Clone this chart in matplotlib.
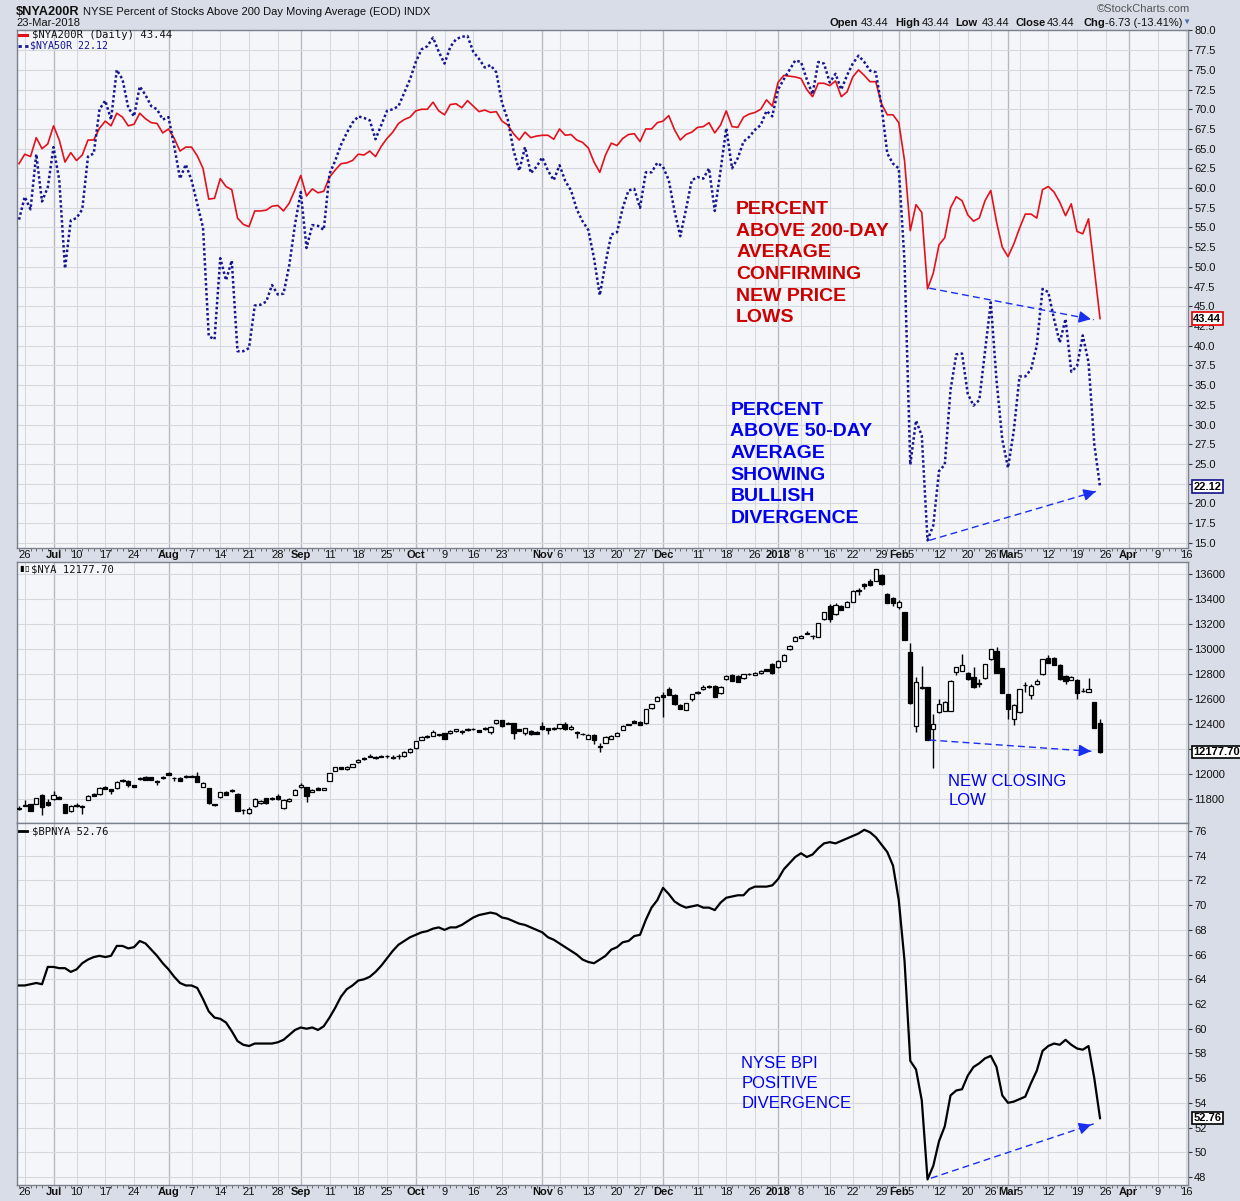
import numpy as np
import pandas as pd
import matplotlib
matplotlib.use('Agg')
import matplotlib.pyplot as plt
from matplotlib.lines import Line2D
from matplotlib.transforms import blended_transform_factory

plt.rcParams['font.family'] = ['Liberation Sans', 'DejaVu Sans']

# ---------------- data ----------------
holidays = ['2017-07-04', '2017-09-04', '2017-11-23', '2017-12-25',
            '2018-01-01', '2018-01-15', '2018-02-19', '2018-03-30']
start_date = '2017-06-23'
end_axis_date = '2018-04-20'

nya200r = [63.1,
    64.3, 64.0, 66.4, 65.0, 65.6, 67.9, 66.1, 63.3, 64.5, 63.5,
    64.2, 66.1, 66.1, 67.6, 68.5, 67.9, 69.5, 69.0, 67.9, 68.1,
    69.5, 68.8, 68.3, 68.2, 67.0, 67.5, 66.3, 64.7, 65.2, 65.2,
    64.1, 62.5, 58.6, 58.7, 61.2, 60.2, 59.8, 56.2, 55.4, 55.1,
    57.1, 57.1, 57.2, 57.7, 57.8, 57.1, 58.1, 59.8, 61.6, 59.0,
    59.9, 59.4, 59.6, 61.4, 62.3, 63.1, 63.2, 63.5, 64.3, 64.2,
    64.7, 64.0, 65.3, 66.3, 67.1, 68.2, 68.7, 69.0, 69.8, 70.0,
    70.0, 70.9, 69.8, 69.3, 70.6, 70.7, 70.2, 71.1, 70.4, 69.7,
    69.9, 69.6, 69.7, 68.5, 68.0, 66.9, 66.1, 67.1, 66.4, 66.6,
    66.7, 66.7, 66.2, 67.5, 66.7, 66.8, 66.1, 65.8, 65.1, 63.3,
    62.0, 64.2, 65.7, 65.4, 66.3, 66.8, 66.9, 65.9, 67.5, 67.5,
    68.3, 68.5, 69.2, 67.4, 66.1, 66.8, 67.1, 67.7, 67.8, 68.3,
    67.0, 68.0, 69.8, 67.8, 67.7, 69.0, 69.4, 69.6, 70.0, 71.2,
    70.4, 73.4, 74.3, 74.2, 74.1, 73.9, 72.5, 71.6, 73.3, 73.3,
    73.0, 73.6, 71.6, 72.2, 74.1, 75.0, 74.3, 73.5, 73.5, 70.7,
    69.3, 69.3, 68.3, 63.5, 54.6, 57.9, 56.9, 47.2, 49.2, 52.8,
    53.7, 57.5, 58.9, 58.4, 56.6, 55.8, 56.2, 58.4, 59.7, 55.7,
    52.5, 51.3, 52.9, 54.9, 56.7, 56.7, 56.2, 59.8, 60.2, 59.5,
    58.2, 56.5, 58.0, 54.5, 54.2, 56.1, 49.8, 43.44]

nya50r = [56.0,
    58.9, 57.3, 64.3, 58.3, 60.1, 65.2, 61.0, 49.8, 55.9, 56.2,
    57.3, 64.0, 64.4, 70.0, 71.1, 68.7, 75.0, 73.8, 70.2, 69.1,
    72.9, 71.8, 70.4, 70.0, 68.7, 69.0, 65.3, 61.2, 63.0, 61.0,
    58.0, 55.0, 41.2, 40.8, 51.1, 48.3, 50.8, 39.3, 39.3, 39.7,
    45.1, 45.2, 45.6, 47.7, 46.5, 46.6, 50.2, 55.4, 59.5, 52.4,
    55.3, 55.2, 54.7, 61.8, 63.5, 65.5, 67.0, 68.3, 69.1, 68.9,
    68.6, 66.2, 68.0, 69.8, 70.0, 70.4, 72.1, 73.8, 76.0, 77.6,
    78.0, 79.1, 77.3, 75.8, 77.9, 78.9, 79.2, 79.3, 77.3, 76.4,
    75.3, 75.6, 74.7, 70.8, 68.7, 64.8, 62.2, 65.2, 61.9, 62.7,
    63.9, 62.2, 61.0, 62.9, 60.9, 59.7, 57.3, 55.8, 54.7, 51.1,
    46.4, 50.5, 54.1, 54.4, 57.5, 59.7, 59.9, 57.5, 62.0, 62.0,
    63.2, 62.7, 61.0, 57.1, 53.9, 57.3, 61.0, 61.4, 61.2, 62.5,
    57.1, 62.2, 67.6, 62.5, 63.8, 65.9, 66.5, 67.4, 68.0, 69.8,
    69.1, 72.5, 73.8, 75.0, 76.2, 76.0, 73.8, 71.9, 76.0, 75.8,
    73.4, 74.5, 72.5, 74.3, 75.8, 76.8, 76.0, 74.9, 74.7, 70.4,
    64.4, 63.1, 62.5, 50.7, 24.9, 30.5, 28.6, 15.3, 17.2, 24.1,
    24.9, 34.4, 38.9, 39.0, 33.9, 32.4, 33.1, 39.3, 45.5, 35.6,
    28.1, 24.5, 29.2, 36.1, 36.1, 37.0, 40.0, 47.2, 46.8, 43.4,
    40.4, 43.4, 36.7, 37.4, 41.3, 37.9, 27.5, 22.12]

nya_open = [11722,
    11750, 11760, 11763, 11835, 11781, 11800, 11821, 11760, 11709, 11745,
    11741, 11795, 11840, 11840, 11896, 11880, 11888, 11944, 11947, 11912,
    11973, 11981, 11976, 11941, 11970, 12008, 11968, 11968, 11976, 11980,
    11987, 11901, 11888, 11760, 11816, 11856, 11867, 11843, 11712, 11688,
    11747, 11768, 11808, 11813, 11829, 11728, 11784, 11835, 11896, 11896,
    11859, 11893, 11875, 11949, 12027, 12056, 12040, 12061, 12096, 12131,
    12141, 12141, 12141, 12145, 12141, 12145, 12147, 12176, 12208, 12275,
    12309, 12309, 12312, 12328, 12328, 12344, 12340, 12363, 12358, 12352,
    12365, 12336, 12408, 12432, 12405, 12408, 12360, 12333, 12347, 12341,
    12387, 12368, 12365, 12368, 12400, 12360, 12330, 12320, 12283, 12315,
    12218, 12253, 12283, 12309, 12355, 12395, 12427, 12420, 12408, 12528,
    12589, 12635, 12680, 12635, 12555, 12515, 12600, 12648, 12680, 12707,
    12707, 12648, 12760, 12795, 12787, 12768, 12800, 12795, 12808, 12840,
    12883, 12856, 12909, 13000, 13067, 13093, 13125, 13105, 13101, 13240,
    13347, 13280, 13347, 13341, 13381, 13467, 13523, 13547, 13547, 13595,
    13440, 13408, 13336, 13296, 12981, 12387, 12690, 12696, 12360, 12496,
    12509, 12509, 12821, 12827, 12813, 12781, 12733, 12768, 12920, 12989,
    12848, 12640, 12443, 12496, 12712, 12635, 12720, 12800, 12928, 12933,
    12875, 12787, 12755, 12755, 12665, 12661, 12576, 12408]

nya_close = [11732,
    11757, 11709, 11808, 11736, 11755, 11835, 11805, 11693, 11749, 11752,
    11745, 11829, 11829, 11893, 11885, 11867, 11939, 11955, 11915, 11901,
    11960, 11957, 11955, 11949, 11976, 11998, 11972, 11949, 11983, 11983,
    11941, 11928, 11768, 11752, 11856, 11835, 11872, 11709, 11717, 11725,
    11803, 11789, 11768, 11800, 11800, 11795, 11803, 11875, 11915, 11827,
    11875, 11877, 11888, 12008, 12056, 12045, 12061, 12080, 12115, 12120,
    12149, 12131, 12149, 12149, 12131, 12149, 12179, 12203, 12264, 12301,
    12296, 12336, 12318, 12283, 12347, 12360, 12343, 12352, 12362, 12341,
    12369, 12381, 12432, 12384, 12410, 12333, 12349, 12368, 12320, 12323,
    12360, 12357, 12369, 12400, 12363, 12381, 12335, 12325, 12315, 12275,
    12223, 12301, 12309, 12328, 12387, 12399, 12413, 12395, 12520, 12560,
    12621, 12616, 12635, 12563, 12525, 12568, 12640, 12661, 12701, 12696,
    12621, 12701, 12787, 12747, 12741, 12800, 12805, 12811, 12827, 12827,
    12808, 12907, 12955, 13027, 13101, 13109, 13130, 13109, 13208, 13296,
    13245, 13355, 13315, 13381, 13469, 13471, 13507, 13512, 13640, 13520,
    13373, 13368, 13381, 13075, 12568, 12741, 12695, 12275, 12403, 12563,
    12581, 12747, 12856, 12872, 12760, 12696, 12723, 12880, 13000, 12813,
    12653, 12523, 12555, 12680, 12717, 12707, 12747, 12920, 12893, 12875,
    12760, 12749, 12781, 12648, 12668, 12680, 12373, 12177.70]

nya_high = [11745,
    11790, 11765, 11812, 11840, 11805, 11867, 11825, 11765, 11753, 11770,
    11755, 11835, 11848, 11900, 11905, 11885, 11943, 11962, 11955, 11916,
    11980, 11985, 11980, 11955, 11985, 12015, 11980, 11975, 11990, 11990,
    12015, 11935, 11893, 11765, 11860, 11862, 11880, 11848, 11725, 11740,
    11808, 11795, 11812, 11818, 11845, 11800, 11810, 11880, 11930, 11900,
    11880, 11898, 11893, 12012, 12060, 12060, 12068, 12085, 12120, 12135,
    12160, 12145, 12152, 12155, 12150, 12165, 12185, 12208, 12268, 12305,
    12315, 12355, 12323, 12333, 12352, 12365, 12350, 12368, 12368, 12357,
    12380, 12385, 12437, 12437, 12415, 12413, 12365, 12373, 12352, 12347,
    12420, 12373, 12375, 12405, 12420, 12395, 12345, 12330, 12320, 12320,
    12248, 12305, 12315, 12335, 12392, 12405, 12432, 12425, 12525, 12565,
    12626, 12660, 12700, 12640, 12560, 12572, 12645, 12667, 12710, 12712,
    12712, 12707, 12792, 12800, 12792, 12805, 12810, 12815, 12832, 12845,
    12888, 12912, 12960, 13032, 13106, 13114, 13145, 13115, 13213, 13301,
    13360, 13370, 13352, 13386, 13474, 13490, 13530, 13560, 13645, 13600,
    13450, 13415, 13395, 13300, 13048, 12775, 12865, 12700, 12483, 12600,
    12586, 12752, 12861, 12960, 12818, 12860, 12760, 12885, 13005, 13020,
    12853, 12645, 12560, 12685, 12740, 12720, 12760, 12925, 12955, 12940,
    12880, 12792, 12786, 12760, 12690, 12770, 12580, 12445]

nya_low = [11712,
    11745, 11705, 11758, 11675, 11745, 11795, 11800, 11688, 11700, 11740,
    11683, 11790, 11825, 11835, 11880, 11840, 11885, 11940, 11895, 11896,
    11955, 11950, 11950, 11915, 11965, 11993, 11945, 11945, 11972, 11975,
    11935, 11896, 11760, 11745, 11810, 11830, 11860, 11705, 11683, 11683,
    11740, 11763, 11763, 11795, 11795, 11725, 11780, 11830, 11890, 11781,
    11855, 11872, 11870, 11945, 12022, 12040, 12035, 12056, 12090, 12115,
    12135, 12125, 12136, 12128, 12120, 12120, 12140, 12170, 12203, 12270,
    12290, 12305, 12309, 12278, 12323, 12340, 12325, 12347, 12352, 12336,
    12355, 12320, 12403, 12380, 12400, 12280, 12344, 12310, 12315, 12318,
    12355, 12320, 12355, 12363, 12355, 12355, 12290, 12315, 12278, 12240,
    12176, 12248, 12278, 12305, 12350, 12390, 12408, 12390, 12403, 12523,
    12585, 12461, 12630, 12555, 12520, 12510, 12585, 12643, 12675, 12690,
    12616, 12643, 12755, 12742, 12736, 12763, 12795, 12790, 12803, 12822,
    12803, 12851, 12904, 12995, 13062, 13088, 13120, 13085, 13096, 13235,
    13215, 13275, 13310, 13336, 13376, 13430, 13485, 13507, 13542, 13515,
    13368, 13345, 13320, 13070, 12560, 12335, 12680, 12270, 12048, 12490,
    12504, 12504, 12790, 12822, 12755, 12690, 12700, 12763, 12915, 12808,
    12648, 12440, 12395, 12491, 12660, 12600, 12715, 12795, 12888, 12870,
    12755, 12720, 12750, 12600, 12655, 12655, 12368, 12170]

bpnya = [63.5,
    63.5, 63.6, 63.7, 63.6, 65.0, 65.0, 64.9, 64.9, 64.6, 64.8,
    65.3, 65.6, 65.8, 65.9, 65.8, 65.9, 66.7, 66.7, 66.5, 66.6,
    67.1, 66.9, 66.4, 65.9, 65.3, 64.8, 64.2, 63.7, 63.5, 63.5,
    63.3, 62.4, 61.4, 60.9, 60.8, 60.5, 59.8, 59.0, 58.7, 58.6,
    58.8, 58.8, 58.8, 58.8, 58.9, 59.1, 59.5, 59.9, 60.1, 60.0,
    60.1, 59.9, 60.2, 60.9, 61.7, 62.6, 63.2, 63.5, 63.9, 64.0,
    64.2, 64.6, 65.1, 65.7, 66.3, 66.8, 67.1, 67.4, 67.6, 67.8,
    67.9, 68.1, 68.2, 68.0, 68.2, 68.2, 68.4, 68.7, 69.0, 69.2,
    69.3, 69.4, 69.3, 69.0, 68.9, 68.7, 68.5, 68.4, 68.2, 68.0,
    67.8, 67.4, 67.2, 66.9, 66.6, 66.3, 66.0, 65.6, 65.4, 65.3,
    65.6, 65.9, 66.4, 66.6, 67.0, 67.1, 67.5, 67.6, 68.8, 69.8,
    70.4, 71.4, 70.9, 70.3, 70.0, 69.8, 69.9, 70.0, 69.8, 69.8,
    69.6, 70.2, 70.6, 70.7, 70.8, 70.8, 71.3, 71.5, 71.5, 71.5,
    71.6, 72.1, 72.9, 73.4, 73.9, 74.2, 73.9, 74.1, 74.6, 75.0,
    75.1, 75.0, 75.2, 75.4, 75.6, 75.8, 76.1, 75.9, 75.5, 74.9,
    74.3, 73.2, 70.4, 65.5, 57.4, 56.7, 54.2, 47.8, 48.9, 50.9,
    52.1, 54.6, 55.0, 55.1, 56.2, 56.9, 57.2, 57.6, 57.8, 56.9,
    54.6, 54.0, 54.1, 54.3, 54.5, 55.6, 56.6, 58.2, 58.6, 58.8,
    58.7, 59.1, 58.7, 58.4, 58.3, 58.6, 56.0, 52.76]

tick_dates = ['2017-06-26', '2017-07-03', '2017-07-10', '2017-07-17', '2017-07-24',
              '2017-08-01', '2017-08-07', '2017-08-14', '2017-08-21', '2017-08-28',
              '2017-09-01', '2017-09-11', '2017-09-18', '2017-09-25', '2017-10-02',
              '2017-10-09', '2017-10-16', '2017-10-23', '2017-11-01', '2017-11-06',
              '2017-11-13', '2017-11-20', '2017-11-27', '2017-12-01', '2017-12-11',
              '2017-12-18', '2017-12-26', '2018-01-02', '2018-01-08', '2018-01-16',
              '2018-01-22', '2018-01-29', '2018-02-01', '2018-02-05', '2018-02-12',
              '2018-02-20', '2018-02-26', '2018-03-01', '2018-03-05', '2018-03-12',
              '2018-03-19', '2018-03-26', '2018-04-02', '2018-04-09', '2018-04-16']
tick_labels = ['26', 'Jul', '10', '17', '24', 'Aug', '7', '14', '21', '28',
               'Sep', '11', '18', '25', 'Oct', '9', '16', '23', 'Nov', '6',
               '13', '20', '27', 'Dec', '11', '18', '26', '2018', '8', '16',
               '22', '29', 'Feb', '5', '12', '20', '26', 'Mar', '5', '12',
               '19', '26', 'Apr', '9', '16']
month_labels = {'Jul', 'Aug', 'Sep', 'Oct', 'Nov', 'Dec', '2018', 'Feb', 'Mar', 'Apr'}

top_ticks = [15 + 2.5 * k for k in range(27)]
mid_ticks = list(range(11800, 13601, 200))
bot_ticks = list(range(48, 77, 2))
# tick labels hidden behind the last-value tags
hidden_top = {22.5}
hidden_mid = {12200}

# ---------------- trading-day axis ----------------
days = pd.bdate_range(start_date, end_axis_date)
days = days[~days.isin(pd.to_datetime(holidays))]
pos_of = {d.strftime('%Y-%m-%d'): k for k, d in enumerate(days)}
n = len(nya200r)
x = np.arange(n)
tick_pos = [pos_of[d] for d in tick_dates]
is_month = [lab in month_labels for lab in tick_labels]
XMIN, XMAX = -0.35, 203.3

# ---------------- figure ----------------
W, H = 1240, 1201
fig = plt.figure(figsize=(W / 100, H / 100), dpi=100)
fig.patch.set_facecolor('#d8dde7')


def px_axes(left, top, right, bottom):
    return fig.add_axes([left / W, 1 - bottom / H, (right - left) / W, (bottom - top) / H])


ax1 = px_axes(17, 30, 1188, 548)
ax2 = px_axes(17, 562, 1188, 823)
ax3 = px_axes(17, 823, 1188, 1185)

GRID = '#d6d9e0'
MGRID = '#b5b9c2'


def style(ax, ylim, yticks, fmt, show_xlabels, hidden=()):
    ax.set_facecolor('#f5f6fa')
    ax.set_xlim(XMIN, XMAX)
    ax.set_ylim(*ylim)
    ax.set_axisbelow(True)
    ax.yaxis.tick_right()
    ax.set_yticks(yticks)
    ax.set_yticklabels(['' if v in hidden else fmt(v) for v in yticks])
    ax.tick_params(axis='y', which='major', length=3, width=0.8, pad=1.5,
                   labelsize=8, colors='#333333', labelcolor='#111111')
    ax.grid(axis='y', color=GRID, lw=0.8)
    for p, m in zip(tick_pos, is_month):
        ax.axvline(p, color=MGRID if m else GRID, lw=1.0 if m else 0.8, zorder=0)
    ax.set_xticks(tick_pos)
    if show_xlabels:
        ax.set_xticklabels(tick_labels)
        for lab, m in zip(ax.get_xticklabels(), is_month):
            if m:
                lab.set_fontweight('bold')
    else:
        ax.set_xticklabels([])
    ax.set_xticks(np.arange(0, 204), minor=True)
    ax.tick_params(axis='x', which='major', length=0, pad=1.5, labelsize=8,
                   labelcolor='#111111')
    ax.tick_params(axis='x', which='minor', length=2, width=0.6, color='#555555')
    for s in ax.spines.values():
        s.set_color('#7b818d')
        s.set_linewidth(1.0)


style(ax1, (14.33, 80.06), top_ticks, lambda v: f'{v:.1f}', True, hidden_top)
style(ax2, (11610, 13698), mid_ticks, lambda v: f'{v:d}', False, hidden_mid)
style(ax3, (47.35, 76.65), bot_ticks, lambda v: f'{v:d}', True)

# ---------------- top panel ----------------
RED = '#e3111b'
NAVY = '#16168f'
ax1.plot(x, nya200r, color=RED, lw=1.2, zorder=3)
ax1.plot(x, nya50r, color=NAVY, lw=1.8, linestyle=(0, (1.0, 1.0)), zorder=3)

# ---------------- middle panel (candles) ----------------
o = np.array(nya_open, float)
c = np.array(nya_close, float)
hi = np.array(nya_high, float)
lo = np.array(nya_low, float)
up = c >= o
ax2.vlines(x, lo, hi, color='black', lw=1.0, zorder=2)
ax2.bar(x, np.maximum(np.abs(c - o), 2.0), bottom=np.minimum(o, c), width=0.75,
        color=np.where(up, 'white', 'black'), edgecolor='black', lw=0.9, zorder=3)

# ---------------- bottom panel ----------------
ax3.plot(x, bpnya, color='black', lw=1.6, zorder=3)

# ---------------- value tags on right axis ----------------
def tag(ax, val, text, ec):
    tr = blended_transform_factory(ax.transAxes, ax.transData)
    ax.text(1.0045, val, text, transform=tr, ha='left', va='center', fontsize=8,
            fontweight='bold', color='black', zorder=10, clip_on=False,
            bbox=dict(boxstyle='square,pad=0.12', fc='white', ec=ec, lw=1.2))


tag(ax1, 43.44, '43.44', '#e00000')
tag(ax1, 22.12, '22.12', '#10108a')
tag(ax2, 12177.70, '12177.70', 'black')
tag(ax3, 52.76, '52.76', 'black')

# ---------------- annotations ----------------
ARW = '#1a2ef0'


def dashed_arrow(ax, x0, y0, x1, y1):
    ax.plot([x0, x1], [y0, y1], color=ARW, lw=1.0, linestyle=(0, (5, 3)), zorder=6)
    t = 0.06
    ax.annotate('', xy=(x1, y1), xytext=(x1 - t * (x1 - x0), y1 - t * (y1 - y0)),
                arrowprops=dict(arrowstyle='-|>', color=ARW, lw=1.0, mutation_scale=18),
                zorder=7)


dashed_arrow(ax1, 158.3, 47.3, 186.9, 43.3)
dashed_arrow(ax1, 158.3, 15.3, 187.7, 21.6)
dashed_arrow(ax2, 158.3, 12274, 186.9, 12182)
dashed_arrow(ax3, 158.6, 47.9, 186.9, 52.3)

ax1.text(124.7, 58.37, 'PERCENT\nABOVE 200-DAY\nAVERAGE\nCONFIRMING\nNEW PRICE\nLOWS',
         color='#cc0000', fontsize=14, fontweight='bold', ha='left', va='top',
         linespacing=1.36, zorder=8)
ax1.text(123.7, 32.9, 'PERCENT\nABOVE 50-DAY\nAVERAGE\nSHOWING\nBULLISH\nDIVERGENCE',
         color='#0000ee', fontsize=14, fontweight='bold', ha='left', va='top',
         linespacing=1.36, zorder=8)
ax2.text(161.6, 12000, 'NEW CLOSING\nLOW', color='#0000ee', fontsize=12,
         ha='left', va='top', linespacing=1.28, zorder=8)
ax3.text(125.6, 57.8, 'NYSE BPI\nPOSITIVE\nDIVERGENCE', color='#0000ee', fontsize=12,
         ha='left', va='top', linespacing=1.42, zorder=8)

# ---------------- header ----------------
def ftext(px, py, s, **kw):
    return fig.text(px / W, 1 - py / H, s, **kw)


ftext(16, 12, '$NYA200R', fontsize=9.2, fontweight='bold', va='center', color='#111111')
ftext(83, 12, 'NYSE Percent of Stocks Above 200 Day Moving Average (EOD) INDX',
      fontsize=8, va='center', color='#111111')
ftext(16, 23, '23-Mar-2018', fontsize=8, va='center', color='#111111')
ftext(1190, 9, '\u00a9StockCharts.com', fontsize=8, va='center', ha='right', color='#555555')

hdr = [(830, 'Open', True), (861, '43.44', False), (895, 'High', True), (922, '43.44', False),
       (955, 'Low', True), (982, '43.44', False), (1015, 'Close', True), (1047, '43.44', False),
       (1083, 'Chg', True), (1105, '-6.73 (-13.41%)', False)]
for px, s, b in hdr:
    ftext(px, 22.5, s, fontsize=8, va='center', fontweight='bold' if b else 'normal',
          color='#111111')
ftext(1182, 22.5, '\u25bc', fontsize=6, va='center', color='#4a6fb0')

# ---------------- in-panel legends ----------------
LEG = 'DejaVu Sans Mono'
fig.add_artist(Line2D([19 / W, 27 / W], [1 - 35 / H, 1 - 35 / H], color=RED, lw=2.2))
ftext(32, 35, '$NYA200R (Daily) 43.44', fontsize=7.6, family=LEG, va='center', color='#111111')
fig.add_artist(Line2D([18 / W, 29 / W], [1 - 46 / H, 1 - 46 / H], color=NAVY, lw=2,
                      linestyle=(0, (1.2, 1.2))))
ftext(30, 46, '$NYA50R 22.12', fontsize=7.2, family=LEG, va='center', color=NAVY)

ftext(19, 570, '\u25ae', fontsize=6, va='center', color='black')
ftext(24, 570, '\u25af', fontsize=6, va='center', color='black')
ftext(31, 570, '$NYA 12177.70', fontsize=7.6, family=LEG, va='center', color='#111111')

fig.add_artist(Line2D([19 / W, 27 / W], [1 - 831 / H, 1 - 831 / H], color='black', lw=2))
ftext(32, 831, '$BPNYA 52.76', fontsize=7.6, family=LEG, va='center', color='#111111')

fig.savefig('out.png', dpi=100, facecolor=fig.get_facecolor())
